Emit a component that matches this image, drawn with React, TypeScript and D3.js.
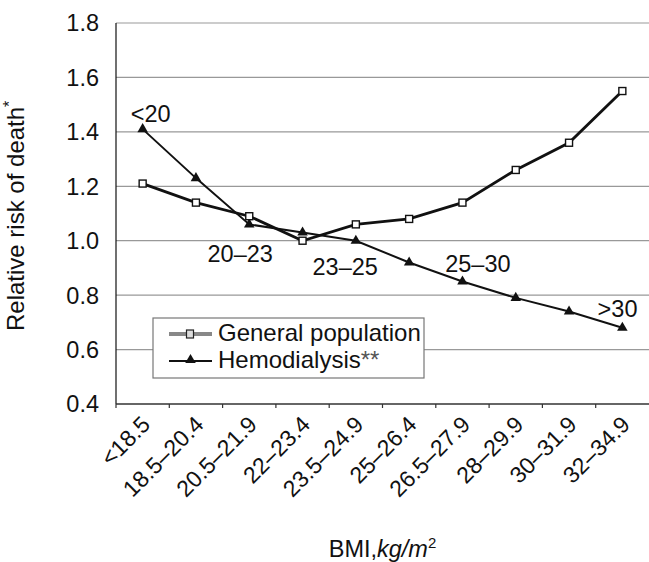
import React from 'react';
import * as d3 from 'd3';

const categories = ['<18.5', '18.5–20.4', '20.5–21.9', '22–23.4', '23.5–24.9', '25–26.4', '26.5–27.9', '28–29.9', '30–31.9', '32–34.9'];
const generalPopulation = [1.21, 1.14, 1.09, 1.0, 1.06, 1.08, 1.14, 1.26, 1.36, 1.55];
const hemodialysis = [1.41, 1.23, 1.06, 1.03, 1.0, 0.92, 0.85, 0.79, 0.74, 0.68];
const yTicks = [0.4, 0.6, 0.8, 1.0, 1.2, 1.4, 1.6, 1.8];
// range labels along the hemodialysis curve: [text, category position, value]
const annotations: [string, number, number][] = [
  ['<20', 0.15, 1.436],
  ['20–23', 1.83, 0.922],
  ['23–25', 3.8, 0.874],
  ['25–30', 6.29, 0.885],
  ['>30', 8.91, 0.72],
];

const width = 649;
const height = 562;
const margin = { left: 116, right: 0, top: 23, bottom: 158 };
const font = '"Liberation Sans", Arial, Helvetica, sans-serif';

const App = () => {
  const x = d3.scaleBand().domain(categories).range([margin.left, width - margin.right]).padding(0);
  const y = d3.scaleLinear().domain([0.4, 1.8]).range([height - margin.bottom, margin.top]);
  const cx = (i: number) => (x(categories[0]) as number) + x.bandwidth() * (i + 0.5);

  const line = d3.line<number>().x((_, i) => cx(i)).y(d => y(d));
  const tri = d3.symbol().type(d3.symbolTriangle).size(48);
  const x0 = margin.left;
  const x1 = width - margin.right;
  const yBottom = y(0.4);

  return (
    <svg width={width} height={height} style={{ position: 'absolute', left: 0, top: 0, background: '#fff' }} fontFamily={font}>
      {/* gridlines */}
      {yTicks.filter(t => t > 0.4).map(t => (
        <line key={t} x1={x0} x2={x1} y1={y(t)} y2={y(t)} stroke="#999" strokeWidth={1.2} />
      ))}
      {/* axes */}
      <line x1={x0} x2={x0} y1={y(1.8)} y2={yBottom} stroke="#111" strokeWidth={1.2} />
      <line x1={x0} x2={x1} y1={yBottom} y2={yBottom} stroke="#333" strokeWidth={1.5} />
      {categories.map((c, i) => (
        <line key={c} x1={x0 + x.bandwidth() * i} x2={x0 + x.bandwidth() * i} y1={yBottom} y2={yBottom + 4} stroke="#333" strokeWidth={1.2} />
      ))}
      {yTicks.map(t => (
        <text key={t} x={99} y={y(t)} dy="0.36em" textAnchor="end" fontSize={23.5} fill="#111">{t.toFixed(1)}</text>
      ))}
      {categories.map((c, i) => (
        <text key={c} transform={`translate(${cx(i) + 9},${yBottom + 22}) rotate(-45)`} textAnchor="end" fontSize={23} fill="#111">{c}</text>
      ))}

      {/* series */}
      <path d={line(generalPopulation) as string} fill="none" stroke="#111" strokeWidth={2.8} />
      <path d={line(hemodialysis) as string} fill="none" stroke="#111" strokeWidth={2} />
      {hemodialysis.map((v, i) => (
        <path key={i} d={tri() as string} transform={`translate(${cx(i)},${y(v)})`} fill="#111" />
      ))}
      {generalPopulation.map((v, i) => (
        <rect key={i} x={cx(i) - 3.5} y={y(v) - 3.5} width={7} height={7} fill="#fff" stroke="#111" strokeWidth={1.4} />
      ))}

      {annotations.map(([t, p, v]) => (
        <text key={t} x={cx(p)} y={y(v)} textAnchor="middle" fontSize={23.5} fill="#111">{t}</text>
      ))}

      {/* legend */}
      <g>
        <rect x={153} y={318} width={271} height={60} fill="#fff" stroke="#777" strokeWidth={1.2} />
        <line x1={169} x2={212} y1={334} y2={334} stroke="#888" strokeWidth={4} />
        <rect x={186.5} y={330} width={7} height={8} fill="#ddd" stroke="#222" strokeWidth={1.2} />
        <text x={218} y={341} fontSize={24} fill="#111">General population</text>
        <line x1={169} x2={212} y1={361} y2={361} stroke="#111" strokeWidth={2} />
        <path d={tri() as string} transform={`translate(190.5,360)`} fill="#111" />
        <text x={218} y={368} fontSize={24} fill="#111">Hemodialysis<tspan fill="#555">**</tspan></text>
      </g>

      {/* axis titles */}
      <text transform="translate(24,331) rotate(-90)" fontSize={24} fill="#111">
        Relative risk of death<tspan fontSize={16} dy={-9}>*</tspan>
      </text>
      <text x={(x0 + x1) / 2} y={557} textAnchor="middle" fontSize={23.5} fill="#111">
        BMI,<tspan fontStyle="italic">kg/m</tspan><tspan fontSize={15} dy={-9}>2</tspan>
      </text>
    </svg>
  );
};

export default App;
